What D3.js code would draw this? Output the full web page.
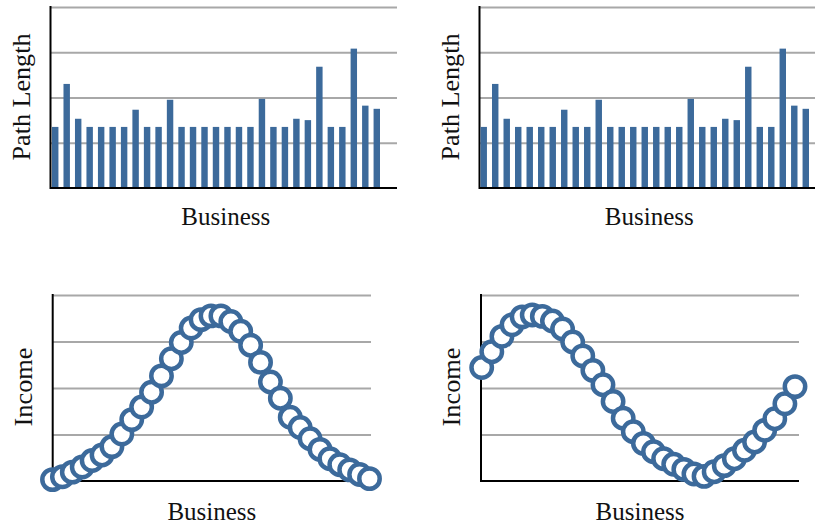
<!DOCTYPE html>
<html>
<head>
<meta charset="utf-8">
<script src="https://cdn.jsdelivr.net/npm/d3@7"></script>
<style>
  body { margin: 0; background: #fff; }
  svg { display: block; }
  text { font-family: "Liberation Serif", "DejaVu Serif", serif; fill: #111; }
</style>
</head>
<body>
<div id="chart"></div>
<script>
// Path length per business (top two panels)
const businesses = d3.range(1, 30);
const pathLength = [1.35, 2.30, 1.53, 1.35, 1.35, 1.35, 1.35, 1.73, 1.35, 1.35,
                    1.95, 1.35, 1.35, 1.35, 1.35, 1.35, 1.35, 1.35, 1.97, 1.35,
                    1.35, 1.53, 1.50, 2.68, 1.35, 1.35, 3.08, 1.82, 1.75];

// Income per business (bottom two panels)
const incomeLeft = [0.03, 0.09, 0.19, 0.30, 0.44, 0.56, 0.74, 1.01, 1.32, 1.59,
                    1.91, 2.26, 2.63, 2.98, 3.29, 3.47, 3.55, 3.55, 3.43, 3.22,
                    2.92, 2.55, 2.13, 1.78, 1.37, 1.15, 0.91, 0.68, 0.48, 0.35,
                    0.24, 0.14, 0.05];
const incomeRight = [2.44, 2.78, 3.11, 3.36, 3.53, 3.57, 3.54, 3.44, 3.27, 2.99,
                     2.69, 2.38, 2.07, 1.71, 1.35, 1.06, 0.81, 0.63, 0.48, 0.36,
                     0.25, 0.15, 0.10, 0.20, 0.33, 0.48, 0.66, 0.84, 1.09, 1.34,
                     1.66, 2.03];

const gridTicks = [1, 2, 3, 4];
const xLabel = "Business";

const blue = "#3c6a9b";
const gridColor = "#a8a8a8";

const svg = d3.select("#chart").append("svg")
    .attr("width", 816)
    .attr("height", 527);

// draws gridlines + black axis lines for one panel
function frame(g, x0, x1, y) {
    g.append("g")
        .attr("transform", `translate(${x0},0)`)
        .call(d3.axisLeft(y).tickValues(gridTicks).tickSize(-(x1 - x0)).tickFormat(""))
        .call(a => a.select(".domain").remove())
        .call(a => a.selectAll("line").attr("stroke", gridColor).attr("stroke-width", 2));

    g.append("line")
        .attr("x1", x0).attr("x2", x0)
        .attr("y1", y(4) - 1).attr("y2", y(0) + 1)
        .attr("stroke", "#000").attr("stroke-width", 2);
    g.append("line")
        .attr("x1", x0).attr("x2", x1)
        .attr("y1", y(0)).attr("y2", y(0))
        .attr("stroke", "#000").attr("stroke-width", 2);
}

function labels(g, yLabel, yLen, xMid, xBase, yLabelX, yMid) {
    g.append("text")
        .attr("x", xMid).attr("y", xBase)
        .attr("text-anchor", "middle")
        .style("font-size", "25px")
        .text(xLabel);
    g.append("text")
        .attr("transform", `translate(${yLabelX},${yMid}) rotate(-90)`)
        .attr("text-anchor", "middle")
        .attr("textLength", yLen)
        .attr("lengthAdjust", "spacingAndGlyphs")
        .style("font-size", "25px")
        .text(yLabel);
}

// Bar panels
function barPanel(axisX, plotRight, barRange) {
    const g = svg.append("g");
    const y = d3.scaleLinear().domain([0, 4]).range([188, 7]);
    const x = d3.scaleBand().domain(businesses).range(barRange)
        .paddingInner(0.44).paddingOuter(0);

    frame(g, axisX, plotRight, y);

    g.selectAll(".bar")
        .data(pathLength)
        .enter()
        .append("rect")
        .attr("class", "bar")
        .attr("x", (d, i) => x(businesses[i]))
        .attr("width", x.bandwidth())
        .attr("y", d => y(d))
        .attr("height", d => y(0) - 1 - y(d))
        .attr("fill", blue);

    labels(g, "Path Length", 127, (axisX + plotRight) / 2 + 2, 225, axisX - 21, 97);
}

barPanel(50.5, 397, [52, 380]);
barPanel(479.5, 815, [480.5, 809]);

// Scatter panels
function scatterPanel(values, axisX, plotRight, pointRange) {
    const g = svg.append("g");
    const y = d3.scaleLinear().domain([0, 4]).range([481, 295]);
    const x = d3.scaleLinear().domain([0, values.length - 1]).range(pointRange);

    frame(g, axisX, plotRight, y);

    g.selectAll(".pt")
        .data(values)
        .enter()
        .append("circle")
        .attr("class", "pt")
        .attr("cx", (d, i) => x(i))
        .attr("cy", d => y(d))
        .attr("r", 10.2)
        .attr("fill", "#fff")
        .attr("stroke", blue)
        .attr("stroke-width", 4.5);

    labels(g, "Income", 79, (axisX + plotRight) / 2, 520, axisX - 21, 387);
}

scatterPanel(incomeLeft, 52.7, 371, [52.5, 369.5]);
scatterPanel(incomeRight, 481, 799, [481.7, 795]);
</script>
</body>
</html>
